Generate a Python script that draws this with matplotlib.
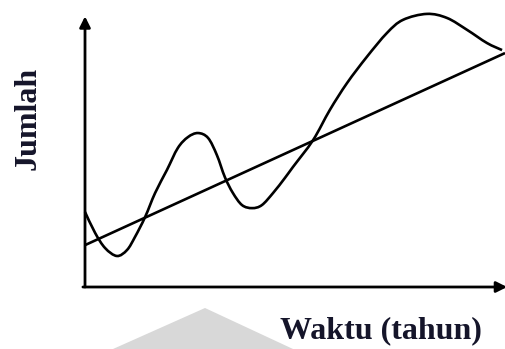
import matplotlib
matplotlib.use("Agg")
import matplotlib.pyplot as plt
from matplotlib.patches import Polygon, PathPatch
from matplotlib.path import Path

# wavy curve, x = waktu, y = jumlah
waktu = [0.00, 0.24, 0.48, 0.76, 1.00, 1.19, 1.43, 1.67, 1.95, 2.21, 2.45,
         2.69, 2.93, 3.14, 3.33, 3.52, 3.74, 3.98, 4.21, 4.48, 4.76, 4.95,
         5.43, 5.83, 6.24, 6.71, 7.19, 7.57, 8.14, 8.62, 9.10, 9.57, 9.93]
jumlah = [2.76, 1.99, 1.43, 1.14, 1.36, 1.84, 2.57, 3.46, 4.30, 5.11, 5.51,
          5.66, 5.48, 4.85, 4.04, 3.46, 3.01, 2.90, 3.01, 3.46, 4.01, 4.41,
          5.40, 6.51, 7.50, 8.46, 9.34, 9.82, 10.04, 9.89, 9.45, 8.97, 8.71]

# straight trend line
trend_x = [0.0, 10.0]
trend_y = [1.54, 8.60]

label_y = "Jumlah"
label_x = "Waktu (tahun)"


def smooth_path(xs, ys):
    # cubic bezier segments through every point (catmull-rom tangents)
    pts = list(zip(xs, ys))
    verts = [pts[0]]
    codes = [Path.MOVETO]
    n = len(pts)
    for i in range(n - 1):
        p0 = pts[max(i - 1, 0)]
        p1 = pts[i]
        p2 = pts[i + 1]
        p3 = pts[min(i + 2, n - 1)]
        c1 = (p1[0] + (p2[0] - p0[0]) / 6, p1[1] + (p2[1] - p0[1]) / 6)
        c2 = (p2[0] - (p3[0] - p1[0]) / 6, p2[1] - (p3[1] - p1[1]) / 6)
        verts += [c1, c2, p2]
        codes += [Path.CURVE4] * 3
    return Path(verts, codes)


fig = plt.figure(figsize=(5.05, 3.49), dpi=100)
ax = fig.add_axes([0, 0, 1, 1])
ax.set_xlim(-2.024, 10.0)
ax.set_ylim(-2.279, 10.551)
ax.axis("off")

# faint grey watermark at the bottom
wm = Polygon([(113 / 505, 0), (205 / 505, 41 / 349), (293 / 505, 0)],
             closed=True, transform=fig.transFigure, facecolor="#d8d8d8",
             edgecolor="none", zorder=0)
fig.patches.append(wm)

# axes with arrows
arrow = dict(arrowstyle="-|>", color="black", lw=2.0,
             mutation_scale=16, shrinkA=0, shrinkB=0)
ax.annotate("", xy=(0, 9.95), xytext=(0, 0), arrowprops=arrow)
ax.annotate("", xy=(10.05, 0), xytext=(-0.05, 0), arrowprops=arrow,
            annotation_clip=False)

ax.plot(trend_x, trend_y, color="black", lw=1.9, solid_capstyle="butt")
ax.add_patch(PathPatch(smooth_path(waktu, jumlah), facecolor="none",
                       edgecolor="black", lw=1.9, clip_on=False))

font = dict(family="Liberation Serif", fontweight="bold", fontsize=23,
            color="#15152a")
fig.text(28 / 505, 1 - 118 / 349, label_y, rotation=90,
         ha="center", va="center", **font)
fig.text(381 / 505, 1 - 331 / 349, label_x, ha="center", va="center", **font)

fig.savefig("out.png", dpi=100)
